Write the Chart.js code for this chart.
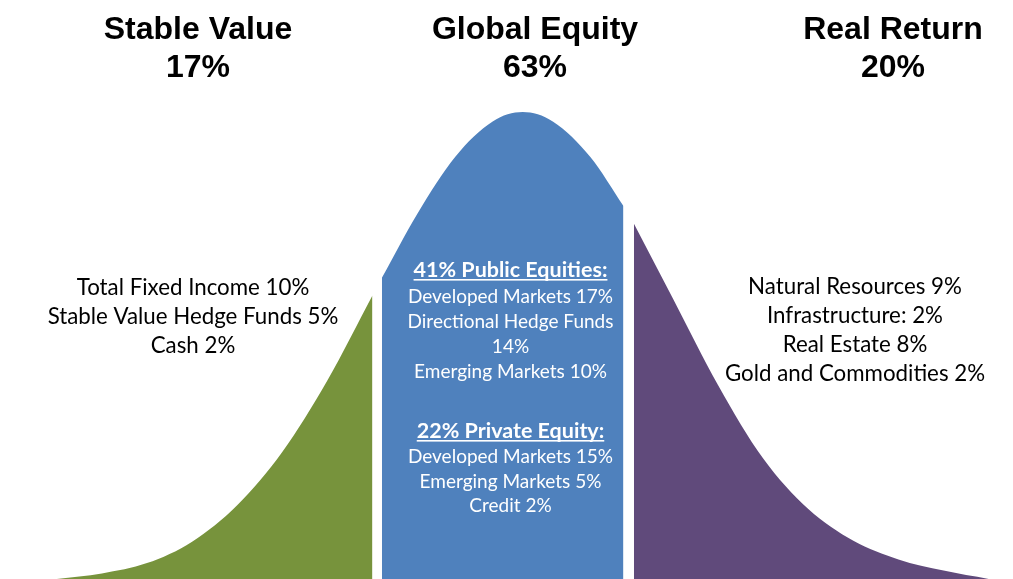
<!DOCTYPE html>
<html>
<head>
<meta charset="utf-8">
<title>Asset allocation bell curve</title>
<script src="https://cdn.jsdelivr.net/npm/chart.js@4.4.1/dist/chart.umd.min.js"></script>
<style>
  html, body { margin: 0; padding: 0; background: #fff; }
  #wrap { width: 1013px; height: 579px; position: relative; }
</style>
</head>
<body>
<div id="wrap"><canvas id="curva"></canvas></div>
<script>
// Curva dividida em três blocos (x em desvios-padrão, altura relativa ao pico)
const stableX   = [-3.1, -2.8, -2.5, -2.2, -1.9, -1.6, -1.3, -1.0];
const stableY   = [0.0, 0.012, 0.034, 0.080, 0.158, 0.272, 0.425, 0.607];
const equityX   = [-0.937, -0.7, -0.45, -0.2, 0, 0.2, 0.45, 0.67];
const equityY   = [0.645, 0.783, 0.904, 0.980, 1.0, 0.980, 0.904, 0.799];
const realX     = [0.74, 1.0, 1.3, 1.6, 1.9, 2.2, 2.5, 2.8, 3.1];
const realY     = [0.761, 0.600, 0.415, 0.258, 0.150, 0.082, 0.042, 0.018, 0.0];

// Títulos e percentuais
const groupNames = ['Stable Value', 'Global Equity', 'Real Return'];
const groupPcts  = ['17%', '63%', '20%'];

// Textos de cada bloco
const stableLines = ['Total Fixed Income 10%', 'Stable Value Hedge Funds 5%', 'Cash 2%'];
const publicHead  = '41% Public Equities:';
const publicLines = ['Developed Markets 17%', 'Directional Hedge Funds', '14%', 'Emerging Markets 10%'];
const privateHead = '22% Private Equity:';
const privateLines = ['Developed Markets 15%', 'Emerging Markets 5%', 'Credit 2%'];
const realLines   = ['Natural Resources 9%', 'Infrastructure: 2%', 'Real Estate 8%', 'Gold and Commodities 2%'];

const colors = ['#77933C', '#4F81BD', '#604A7B'];

const toPoints = (xs, ys) => xs.map((x, i) => ({ x: x, y: ys[i] }));

function serie(xs, ys, cor) {
    return {
        data: toPoints(xs, ys),
        borderColor: cor,
        backgroundColor: cor,
        borderWidth: 0,
        pointRadius: 0,
        fill: 'origin',
        cubicInterpolationMode: 'monotone'
    };
}

// Plugin simples para escrever os textos
const textos = {
    id: 'textos',
    afterDraw(chart) {
        const ctx = chart.ctx;
        ctx.save();
        ctx.textAlign = 'center';
        ctx.textBaseline = 'middle';

        // títulos
        const titleX = [198, 535, 893];
        ctx.fillStyle = '#000';
        ctx.font = 'bold 32px "Liberation Sans", Arial, sans-serif';
        groupNames.forEach((n, i) => {
            ctx.fillText(n, titleX[i], 30);
            ctx.fillText(groupPcts[i], titleX[i], 68);
        });

        ctx.font = '22.3px Lato, "Open Sans", sans-serif';
        stableLines.forEach((t, i) => ctx.fillText(t, 193, 288 + i * 29));
        realLines.forEach((t, i) => ctx.fillText(t, 855, 287 + i * 29));

        // bloco azul
        ctx.fillStyle = '#fff';
        const cx = 510.5;
        function cabecalho(t, y) {
            ctx.font = 'bold 21.5px Lato, "Open Sans", sans-serif';
            ctx.fillText(t, cx, y);
            const w = ctx.measureText(t).width;
            ctx.fillRect(cx - w / 2, y + 9, w, 1.6);
        }
        cabecalho(publicHead, 270);
        ctx.font = '19px Lato, "Open Sans", sans-serif';
        publicLines.forEach((t, i) => ctx.fillText(t, cx, 297 + i * 25));
        cabecalho(privateHead, 431);
        ctx.font = '19px Lato, "Open Sans", sans-serif';
        privateLines.forEach((t, i) => ctx.fillText(t, cx, 457 + i * 24.5));
        ctx.restore();
    }
};

new Chart(document.getElementById('curva'), {
    type: 'line',
    data: {
        datasets: [
            serie(stableX, stableY, colors[0]),
            serie(equityX, equityY, colors[1]),
            serie(realX, realY, colors[2])
        ]
    },
    options: {
        responsive: true,
        maintainAspectRatio: false,
        animation: false,
        layout: { padding: 0 },
        plugins: {
            legend: { display: false },
            tooltip: { enabled: false }
        },
        scales: {
            x: { type: 'linear', min: -3.478, max: 3.262, display: false },
            y: { min: 0, max: 1.24, display: false }
        }
    },
    plugins: [textos]
});
</script>
</body>
</html>
